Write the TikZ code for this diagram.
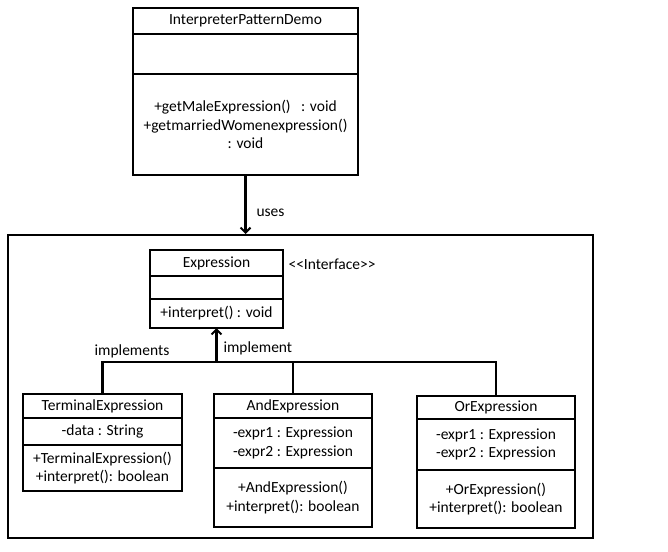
\documentclass[tikz,border=0pt]{standalone}
\usepackage{fontspec}
\setmainfont{Carlito}
\usetikzlibrary{positioning, arrows.meta}

\tikzset{
  umlpart/.style={draw, line width=2pt, inner sep=0pt, outer sep=0pt,
    align=center, minimum width=#1, font=\fontsize{15.5}{18.5}\selectfont},
  link/.style={line width=2.2pt},
  uplink/.style={link, -{Straight Barb[length=5pt, width=10pt, line width=2pt]}},
  tag/.style={font=\fontsize{15.5}{18}\selectfont}
}

\begin{document}
\begin{tikzpicture}[x=1pt, y=-1pt]
\useasboundingbox (0,0) rectangle (668,551);

% Demo class
\node[umlpart=225, minimum height=26] (demoT) at (245.5,21) {InterpreterPatternDemo};
\node[umlpart=225, minimum height=40, below=0pt of demoT] (demoA) {};
\node[umlpart=225, minimum height=101, below=0pt of demoA] (demoM)
  {+getMaleExpression()~~ : void\\+getmarriedWomenexpression()\\: void};

% Package frame
\node[draw, line width=2pt, minimum width=585, minimum height=303] (pkg) at (300.5,386.5) {};

% Expression interface
\node[umlpart=133, minimum height=26] (exprT) at (216.5,263) {Expression};
\node[umlpart=133, minimum height=23, below=0pt of exprT] (exprA) {};
\node[umlpart=133, minimum height=29, below=0pt of exprA] (exprM) {+interpret() : void};
\node[tag, anchor=west] (iface) at (285,264) {<{}<Interface>{}>};

% Implementing classes
\node[umlpart=159, minimum height=24] (termT) at (102.5,406) {TerminalExpression};
\node[umlpart=159, minimum height=27, below=0pt of termT] (termA) {-data : String};
\node[umlpart=159, minimum height=46, below=0pt of termA] (termM)
  {+TerminalExpression()\\+interpret(): boolean};

\node[umlpart=158, minimum height=24] (andT) at (293,406) {AndExpression};
\node[umlpart=158, minimum height=50, below=0pt of andT] (andA)
  {-expr1 : Expression\\-expr2 : Expression};
\node[umlpart=158, minimum height=59, below=0pt of andA] (andM)
  {+AndExpression()\\+interpret(): boolean};

\node[umlpart=158, minimum height=23] (orT) at (496,407.5) {OrExpression};
\node[umlpart=158, minimum height=51, below=0pt of orT] (orA)
  {-expr1 : Expression\\-expr2 : Expression};
\node[umlpart=158, minimum height=58, below=0pt of orA] (orM)
  {+OrExpression()\\+interpret(): boolean};

% Connectors
\draw[uplink] (demoM.south) -- (demoM.south |- pkg.north);
\node[tag, anchor=west] (uses) at (253,213) {uses};

\coordinate (bar) at (216.5,362);
\draw[link] (termT.north) |- (orT.north |- bar) -- (orT.north);
\draw[link] (andT.north) -- (andT.north |- bar);
\draw[uplink] (bar) -- (exprM.south);
\node[tag] (implA) at (132,351) {implements};
\node[tag, anchor=west] (implB) at (220,348) {implement};

\end{tikzpicture}
\end{document}
